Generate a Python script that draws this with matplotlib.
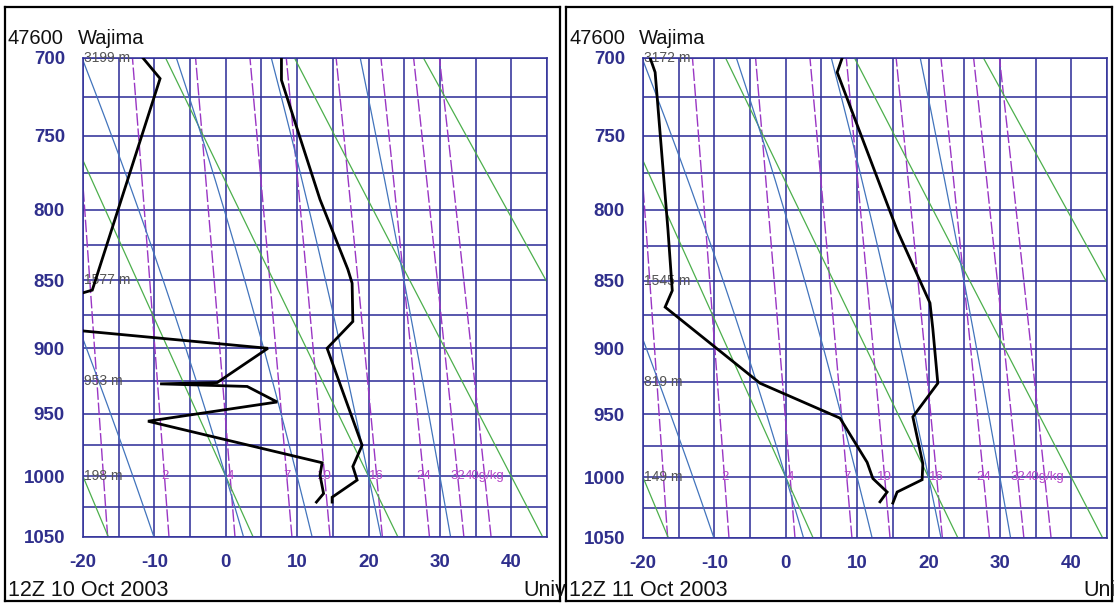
import numpy as np
import matplotlib.pyplot as plt

plt.rcParams['font.family'] = ['Liberation Sans', 'DejaVu Sans']
plt.rcParams['axes.unicode_minus'] = False

K = 0.286  # Stuve: y ~ p**K

# 47600 Wajima, 12Z 10 Oct 2003
p_t10 = [700, 714, 793, 842, 852, 880, 900, 975, 992, 1003, 1017, 1021]
t10 = [7.8, 7.8, 13.2, 17.1, 17.7, 17.8, 14.2, 19.1, 17.8, 18.4, 14.9, 14.9]
p_td10 = [700, 713, 857, 862, 886, 900, 926, 927, 929, 941, 956, 989, 999, 1014, 1021]
td10 = [-11.6, -9.2, -18.7, -22.0, -22.0, 5.9, -1.2, -9.2, 3.0, 7.2, -10.9, 13.5, 13.2, 13.7, 12.7]
hgt10 = ["3199 m", "1577 m", "953 m", "198 m"]

# 47600 Wajima, 12Z 11 Oct 2003
p_t11 = [700, 709, 814, 866, 885, 926, 952, 989, 1002, 1012, 1021]
t11 = [7.9, 7.2, 15.6, 20.2, 20.6, 21.3, 17.8, 19.2, 19.1, 15.6, 15.0]
p_td11 = [700, 709, 814, 857, 869, 926, 953, 988, 1001, 1012, 1020]
td11 = [-19.0, -18.3, -16.5, -15.9, -16.9, -3.6, 7.6, 11.4, 12.2, 14.2, 13.2]
hgt11 = ["3172 m", "1545 m", "819 m", "149 m"]

hgt_levels = [700, 850, 925, 1000]
mix_ratios = [1, 2, 4, 7, 10, 16, 24, 32, 40]
mix_labels = ["", "2", "4", "7", "10", "16", "24", "32", "40g/kg"]
dry_thetas = [-20, 0, 20, 40, 60, 80]      # deg C at 1000 hPa
moist_thetas = [-13, 0, 10, 20, 30]        # wet-bulb pot. temp, deg C
p_ticks = [700, 750, 800, 850, 900, 950, 1000, 1050]
t_ticks = [-20, -10, 0, 10, 20, 30, 40]

W, H = 1115, 605
GRID = '#32329a'
NAVY = '#2f2f8c'

pp = np.arange(1050, 699, -1.0)


def sat_vp(tc):
    return 6.112 * np.exp(17.67 * tc / (tc + 243.5))


def dewpt_from_e(e):
    a = np.log(e / 6.112)
    return 243.5 * a / (17.67 - a)


def moist_line(t0):
    # pseudo-adiabat through (1000 hPa, t0) integrated both ways
    Rd, cp, Lv, eps = 287.04, 1005.7, 2.501e6, 0.622

    def dtdp(p, T):
        es = sat_vp(T - 273.15)
        rs = eps * es / (p - es)
        return (Rd * T + Lv * rs) / (p * (cp + Lv ** 2 * rs * eps / (Rd * T ** 2)))

    out = {}
    for direction in (-1.0, 1.0):
        T = t0 + 273.15
        p = 1000.0
        out[p] = T
        while 700 - 1 <= p <= 1050 + 1:
            h = direction
            k1 = dtdp(p, T)
            k2 = dtdp(p + h / 2, T + h * k1 / 2)
            k3 = dtdp(p + h / 2, T + h * k2 / 2)
            k4 = dtdp(p + h, T + h * k3)
            T += h * (k1 + 2 * k2 + 2 * k3 + k4) / 6
            p += h
            out[p] = T
    ps = np.array(sorted(out))
    return ps, np.array([out[x] for x in ps]) - 273.15


def panel(frame_px, plot_px, p_t, t, p_td, td, hgts, date, credit):
    fx0, fy0, fx1, fy1 = frame_px
    frame = plt.gcf().add_axes([fx0 / W, 1 - fy1 / H, (fx1 - fx0) / W, (fy1 - fy0) / H])
    frame.set_xticks([])
    frame.set_yticks([])
    frame.set_xlim(fx0, fx1)
    frame.set_ylim(fy1, fy0)
    for s in frame.spines.values():
        s.set_color('black')
        s.set_linewidth(1.6)

    x0, y0, x1, y1 = plot_px
    ax = plt.gcf().add_axes([x0 / W, 1 - y1 / H, (x1 - x0) / W, (y1 - y0) / H])
    ax.set_yscale('function', functions=(lambda p: np.abs(p) ** K, lambda y: np.abs(y) ** (1 / K)))
    ax.set_xlim(-20, 45)
    ax.set_ylim(1050, 700)
    ax.patch.set_alpha(0)

    for tt in range(-20, 46, 5):
        ax.axvline(tt, color=GRID, lw=1.15, zorder=1)
    for p in range(700, 1051, 25):
        ax.axhline(p, color=GRID, lw=1.15, zorder=1)

    for w, lab in zip(mix_ratios, mix_labels):
        e = w * pp / (622.0 + w)
        ax.plot(dewpt_from_e(e), pp, color='#9a36c4', lw=1.0, ls=(0, (9, 2)), zorder=2)
        if lab:
            e0 = w * 1000 / (622.0 + w)
            ax.text(dewpt_from_e(e0), 1000, lab, color='#b544c8', fontsize=9.5,
                    ha='center', va='center', zorder=4)

    for th in dry_thetas:
        ax.plot((th + 273.15) * (pp / 1000.0) ** K - 273.15, pp, color='#4caf4c', lw=0.9, zorder=2)
    for th in moist_thetas:
        mp, mt = moist_line(th)
        ax.plot(mt, mp, color='#4274bc', lw=0.9, zorder=2)

    ax.plot(t, p_t, color='black', lw=2.0, zorder=5, solid_joinstyle='miter')
    ax.plot(td, p_td, color='black', lw=2.0, zorder=5, solid_joinstyle='miter')

    for lev, lab in zip(hgt_levels, hgts):
        ax.text(-19.8, lev, lab, color='#555555', fontsize=10, ha='left', va='center', zorder=4)

    ax.set_yticks(p_ticks)
    ax.set_yticklabels([str(v) for v in p_ticks])
    ax.set_xticks(t_ticks)
    ax.set_xticklabels([str(v) for v in t_ticks])
    ax.minorticks_off()
    ax.tick_params(axis='both', length=0, labelsize=13.5, labelcolor=NAVY)
    ax.tick_params(axis='y', pad=13)
    ax.tick_params(axis='x', pad=12)
    for lb in ax.get_xticklabels() + ax.get_yticklabels():
        lb.set_fontweight('bold')
    for s in ax.spines.values():
        s.set_color(GRID)
        s.set_linewidth(1.15)

    frame.text(fx0 + 3, 38, "47600", fontsize=14.5, ha='left', va='center', color='#111111')
    frame.text(fx0 + 73, 38, "Wajima", fontsize=14.5, ha='left', va='center', color='#111111')
    frame.text(fx0 + 3, 590, date, fontsize=15.5, ha='left', va='center', color='#111111')
    frame.text(x0 + 440, 590, credit, fontsize=15.5, ha='left', va='center', color='#111111')


fig = plt.figure(figsize=(W / 100, H / 100), dpi=100)
fig.patch.set_facecolor('white')

panel((5, 7, 560, 601), (83, 58, 547, 537), p_t10, t10, p_td10, td10, hgt10, "12Z 10 Oct 2003", "Univ")
panel((566, 7, 1112, 601), (643, 58, 1107, 538), p_t11, t11, p_td11, td11, hgt11, "12Z 11 Oct 2003", "Uni")

fig.savefig('out.png', dpi=100)
